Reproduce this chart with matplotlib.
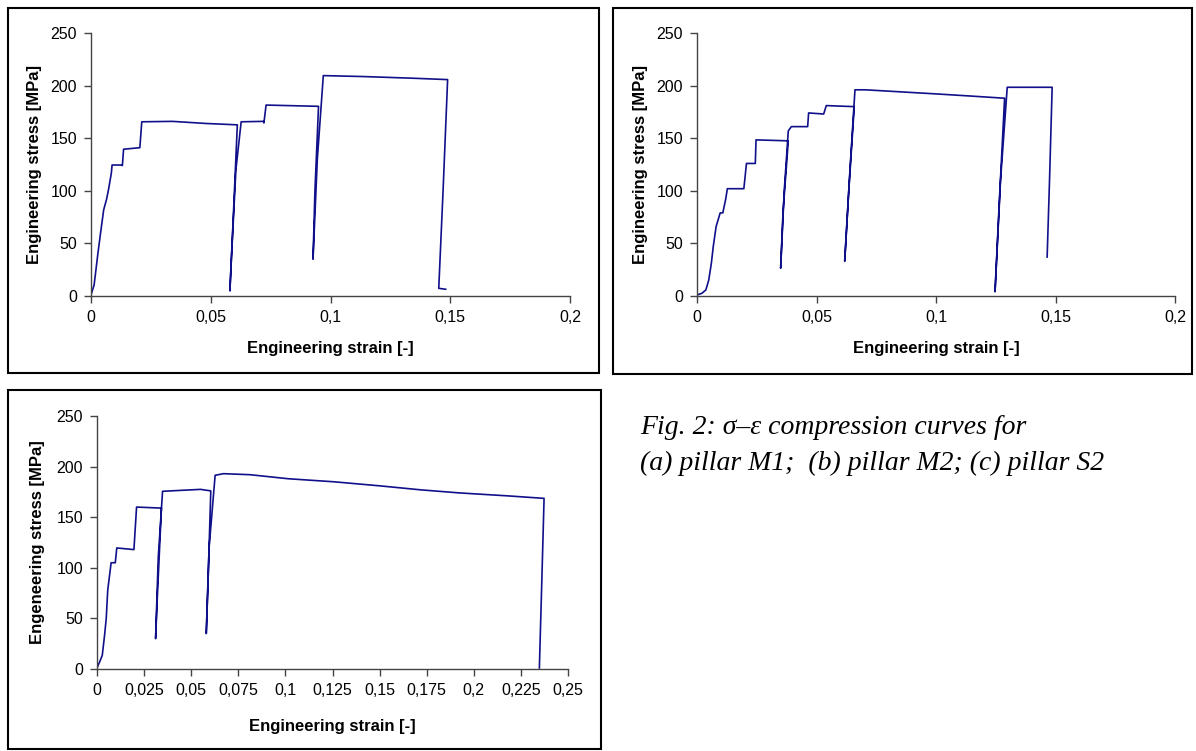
import matplotlib.pyplot as plt
from matplotlib.patches import Rectangle
from matplotlib.ticker import FuncFormatter

# =========================
# DATA
# =========================

# (a) pillar M1
m1_strain = [0, 0.0013, 0.0029, 0.004, 0.0053, 0.0065, 0.0073, 0.0085, 0.0088,
             0.0129, 0.0131, 0.0136, 0.0204, 0.0212, 0.034, 0.048, 0.0611,
             0.0595, 0.058, 0.0585, 0.0605, 0.0627, 0.072, 0.0722, 0.0731, 0.095,
             0.0935, 0.0927, 0.0945, 0.097, 0.1138, 0.1345, 0.1489,
             0.147, 0.1452, 0.1481]
m1_stress = [1, 10.5, 40.8, 60, 82, 92, 101, 117, 124.5,
             124.5, 124, 139.5, 141, 165.6, 166, 164, 162.7,
             80, 4.8, 30, 120, 165.6, 166, 164.5, 181.5, 180.3,
             100, 35, 130, 209.5, 208.6, 207, 205.7,
             100, 7.3, 6.4]

# (b) pillar M2
m2_strain = [0, 0.002, 0.0037, 0.0049, 0.006, 0.0068, 0.008, 0.0097, 0.0108,
             0.012, 0.0127, 0.0196, 0.0207, 0.0244, 0.0247, 0.0382,
             0.036, 0.035, 0.0365, 0.0382, 0.0395, 0.0463, 0.0467, 0.053, 0.0541, 0.0658,
             0.0635, 0.0618, 0.064, 0.0661, 0.0705, 0.1008, 0.115, 0.1287,
             0.1265, 0.1247, 0.127, 0.1298, 0.1486,
             0.1475, 0.1465]
m2_stress = [1, 2.5, 5.7, 15, 31, 47, 66, 79, 79,
             92, 102, 102, 126, 126, 148.4, 147.5,
             80, 26.4, 100, 157, 161, 161, 174, 173, 181, 180,
             100, 33, 120, 196, 196, 192, 190, 188,
             90, 4, 110, 198.4, 198.4,
             110, 37]

# (c) pillar S2
s2_strain = [0, 0.0014, 0.0028, 0.004, 0.0049, 0.0057, 0.0069, 0.0075, 0.0097,
             0.0105, 0.0196, 0.021, 0.0342,
             0.032, 0.0311, 0.0325, 0.0348, 0.055, 0.0604,
             0.059, 0.058, 0.0595, 0.0627, 0.0671, 0.0812, 0.1015, 0.1257, 0.15,
             0.172, 0.1924, 0.2187, 0.2373,
             0.236, 0.2348]
s2_stress = [1, 7, 13.5, 33, 50, 78, 96, 105, 105,
             119.6, 118, 160, 159,
             70, 30, 110, 175.6, 177.5, 176,
             90, 35, 120, 191.4, 193, 192, 188, 185, 181,
             177, 174, 171, 168.6,
             80, 1]

panels = [
    # strain, stress, xmax, xstep, ylabel, axes box (px), frame box (px),
    # ylabel right edge x (px), xlabel top y (px)
    (m1_strain, m1_stress, 0.2, 0.05, "Engineering stress [MPa]",
     (91, 33, 570, 296), (8, 8, 599, 373), 42, 341),
    (m2_strain, m2_stress, 0.2, 0.05, "Engineering stress [MPa]",
     (697, 33, 1175, 296), (613, 8, 1192, 374), 648, 341),
    (s2_strain, s2_stress, 0.25, 0.025, "Engeneering stress [MPa]",
     (97, 416, 568, 669), (8, 390, 601, 749), 45, 719),
]

W, H = 1196, 751
LINE = "#10108a"
AXC = "#444444"

plt.rcParams['font.family'] = ['Liberation Sans', 'DejaVu Sans']

fig = plt.figure(figsize=(W / 100, H / 100), dpi=100)


def comma(v, pos):
    s = ("%.3f" % v).rstrip("0").rstrip(".")
    return s.replace(".", ",")


for strain, stress, xmax, xstep, ylab, box, frame, ylx, xly in panels:
    x0, y0, x1, y1 = box
    ax = fig.add_axes([x0 / W, 1 - y1 / H, (x1 - x0) / W, (y1 - y0) / H])
    ax.plot(strain, stress, color=LINE, lw=1.2)
    ax.set_xlim(0, xmax)
    ax.set_ylim(0, 250)
    nx = int(round(xmax / xstep))
    ax.set_xticks([i * xstep for i in range(nx + 1)])
    ax.set_yticks(range(0, 251, 50))
    ax.xaxis.set_major_formatter(FuncFormatter(comma))
    for s in ["top", "right"]:
        ax.spines[s].set_visible(False)
    for s in ["left", "bottom"]:
        ax.spines[s].set_color(AXC)
        ax.spines[s].set_linewidth(1.0)
    ax.tick_params(direction="out", length=5, width=1, color=AXC,
                   labelsize=11.5, pad=5)
    ax.set_xlabel("Engineering strain [-]", fontsize=12, fontweight="bold")
    ax.set_ylabel(ylab, fontsize=12, fontweight="bold")
    ax.xaxis.set_label_coords(0.5, -(xly - y1) / (y1 - y0))
    ax.yaxis.set_label_coords(-(x0 - ylx) / (x1 - x0), 0.5)

    fx0, fy0, fx1, fy1 = frame
    fig.patches.append(Rectangle((fx0 / W, 1 - fy1 / H), (fx1 - fx0) / W,
                                 (fy1 - fy0) / H, transform=fig.transFigure,
                                 fill=False, edgecolor="black", lw=1.5))

cap_font = dict(family=["Liberation Serif", "DejaVu Serif"], style="italic",
                fontsize=20, va="center", ha="left")
fig.text(640 / W, 1 - 428 / H, "Fig. 2: σ–ε compression curves for", **cap_font)
fig.text(640 / W, 1 - 463 / H, "(a) pillar M1;  (b) pillar M2; (c) pillar S2",
         **cap_font)

fig.savefig("out.png", dpi=100)
